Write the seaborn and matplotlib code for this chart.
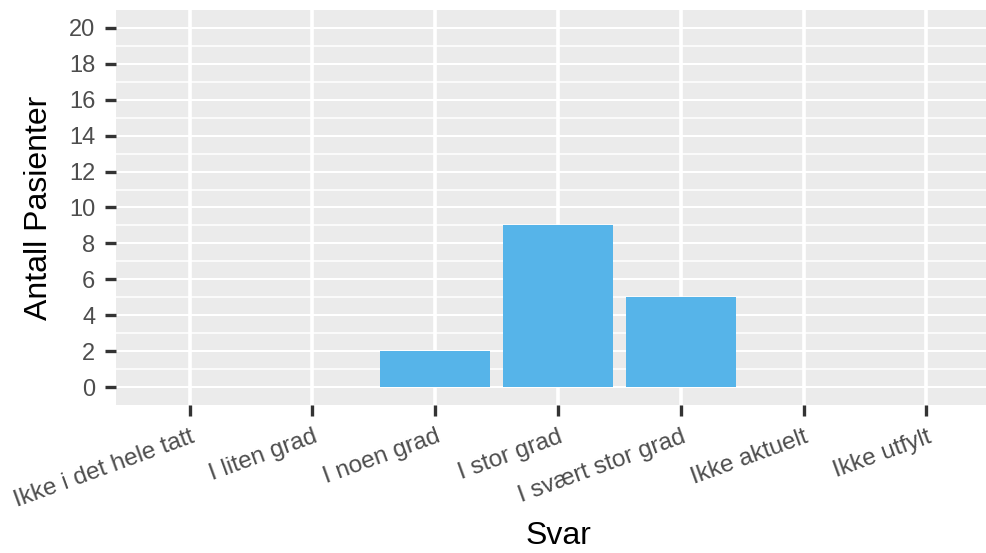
import matplotlib
matplotlib.use("Agg")
import matplotlib.pyplot as plt
import seaborn as sns
import numpy as np

# data
svar = ["Ikke i det hele tatt", "I liten grad", "I noen grad", "I stor grad",
        "I svært stor grad", "Ikke aktuelt", "Ikke utfylt"]
antall = [0, 0, 2, 9, 5, 0, 0]

sns.set_style("white")
plt.rcParams['font.family'] = ['Liberation Sans', 'DejaVu Sans']

fig = plt.figure(figsize=(9.86, 5.53), dpi=100)
ax = fig.add_axes([116 / 986, 1 - 405 / 553, (1000 - 116) / 986, 395 / 553])
ax.set_facecolor('#EBEBEB')

sns.barplot(x=svar, y=antall, order=svar, color='#56B4E9', saturation=1,
            width=0.9, linewidth=0, ax=ax, zorder=3)

ax.set_xlim(-0.6, 6.6)
ax.set_ylim(-1, 21)
ax.set_yticks(np.arange(0, 21, 2))
ax.set_yticks(np.arange(1, 21, 2), minor=True)

ax.grid(True, which='major', axis='y', color='white', linewidth=1.5, zorder=1)
ax.grid(True, which='minor', axis='y', color='white', linewidth=1.1, zorder=1)
ax.grid(True, which='major', axis='x', color='white', linewidth=2.6, zorder=1)
ax.set_axisbelow(True)
for s in ax.spines.values():
    s.set_visible(False)

ax.tick_params(axis='both', which='major', length=8, width=2.4, color='#333333',
               labelsize=17, labelcolor='#4D4D4D', left=True, bottom=True)
ax.tick_params(axis='y', which='major', pad=7)
ax.tick_params(axis='x', which='major', pad=7, labelsize=17.5)
ax.tick_params(axis='y', which='minor', length=0)
plt.setp(ax.get_xticklabels(), rotation=20, ha='right', va='top',
         rotation_mode='anchor')

ax.set_xlabel('Svar', fontsize=23, color='black', labelpad=7)
ax.set_ylabel('Antall Pasienter', fontsize=23, color='black', labelpad=11)

fig.savefig('out.png', dpi=100)
